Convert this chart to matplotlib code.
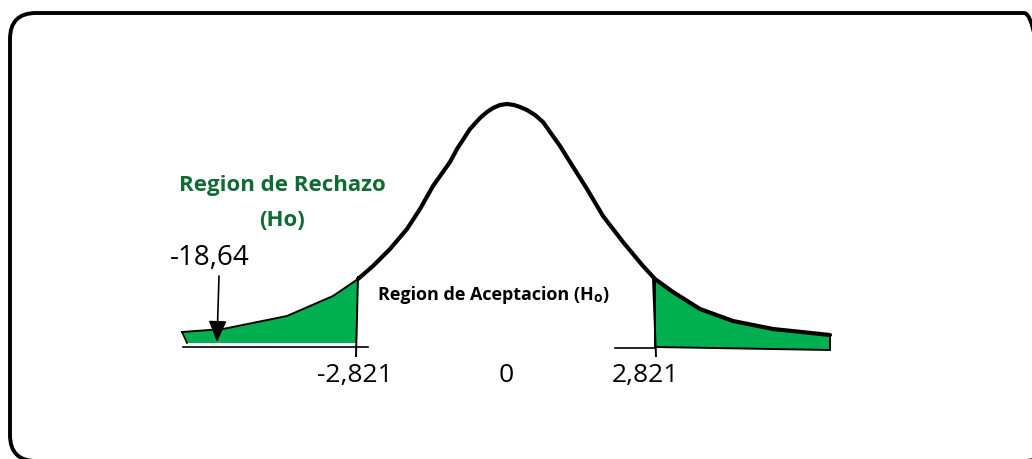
import matplotlib
matplotlib.use('Agg')
import matplotlib.pyplot as plt
from matplotlib.patches import FancyBboxPatch, Polygon
from matplotlib.transforms import IdentityTransform

# puntos (pixeles, y hacia abajo)
tail_x = [182, 223, 287, 333, 358]
tail_y = [333, 330, 317, 297, 280]
curve_x = [358, 373, 390, 407, 420, 433, 450, 457, 470, 480, 487, 493, 500, 507, 514,
           520, 527, 535, 543, 560, 570, 587, 603, 623, 643, 655, 673, 700, 733, 773, 830]
curve_y = [280, 267, 250, 230, 210, 187, 163, 150, 130, 119, 113, 109, 106, 105, 106,
           108, 111, 116, 123, 147, 163, 190, 217, 243, 267, 280, 293, 310, 322, 330, 336]
crit_left, crit_right = 357, 655
tick_labels = ['-2,821', '0', '2,821']
tick_pos = [355, 506, 645]
stat_label = '-18,64'
stat_pos = 218

GREEN = '#00B050'
DARK_GREEN = '#0E6B34'

fig = plt.figure(figsize=(10.32, 4.6), dpi=100)
ax = fig.add_axes([0, 0, 1, 1])
ax.set_xlim(0, 1032)
ax.set_ylim(460, 0)
ax.axis('off')

# marco redondeado (en pixeles de la figura)
frame = FancyBboxPatch((10, -2), 1040, 448, boxstyle='round,pad=0,rounding_size=26',
                       fill=False, lw=2.8, ec='black', transform=IdentityTransform())
fig.add_artist(frame)

# region de rechazo izquierda
left_poly = list(zip(tail_x, tail_y)) + [(crit_left, 344), (187, 344)]
ax.add_patch(Polygon(left_poly, closed=True, fc=GREEN, ec='none'))
ax.plot(tail_x, tail_y, color='black', lw=1.4)
ax.plot([182, 187], [333, 344], color='black', lw=1.2)

# region de rechazo derecha
i0 = curve_x.index(crit_right)
right_poly = list(zip(curve_x[i0:], curve_y[i0:])) + [(830, 351), (crit_right, 348)]
ax.add_patch(Polygon(right_poly, closed=True, fc=GREEN, ec='black', lw=1.4))

# curva principal
ax.plot(curve_x, curve_y, color='black', lw=3.0, solid_capstyle='round',
        solid_joinstyle='round')

# valores criticos y base
ax.plot([crit_left + 1, crit_left - 1], [278, 357], color='black', lw=1.4)
ax.plot([crit_right - 2, crit_right + 1], [280, 357], color='black', lw=1.4)
ax.plot([183, 368], [348, 348], color='black', lw=1.2)
ax.plot([615, crit_right], [349, 349], color='black', lw=1.2)

# flecha del estadistico
ax.annotate('', xy=(stat_pos - 1, 343), xytext=(stat_pos + 1, 277),
            arrowprops=dict(arrowstyle='-|>,head_length=1.3,head_width=0.55',
                            color='black', lw=1.2, shrinkA=0, shrinkB=0))

font = 'Open Sans'
ax.text(282, 186, 'Region de Rechazo', color=DARK_GREEN, fontsize=16,
        fontweight='bold', family=font, ha='center', va='center')
ax.text(282, 221, '(Ho)', color=DARK_GREEN, fontsize=16,
        fontweight='bold', family=font, ha='center', va='center')
ax.text(210, 258, stat_label, fontsize=20, family=font, ha='center', va='center')

# etiqueta de aceptacion con la "o" pequena
t = ax.text(378, 295, 'Region de Aceptacion (H', fontsize=13, fontweight='bold',
            family=font, ha='left', va='center')
fig.canvas.draw()
bb = t.get_window_extent().transformed(ax.transData.inverted())
t2 = ax.text(bb.x1, 298, 'o', fontsize=10, fontweight='bold', family=font,
             ha='left', va='center')
fig.canvas.draw()
bb2 = t2.get_window_extent().transformed(ax.transData.inverted())
ax.text(bb2.x1, 295, ')', fontsize=13, fontweight='bold', family=font,
        ha='left', va='center')

for lab, x in zip(tick_labels, tick_pos):
    ax.text(x, 376, lab, fontsize=19, family=font, ha='center', va='center')

fig.savefig('out.png', dpi=100)
